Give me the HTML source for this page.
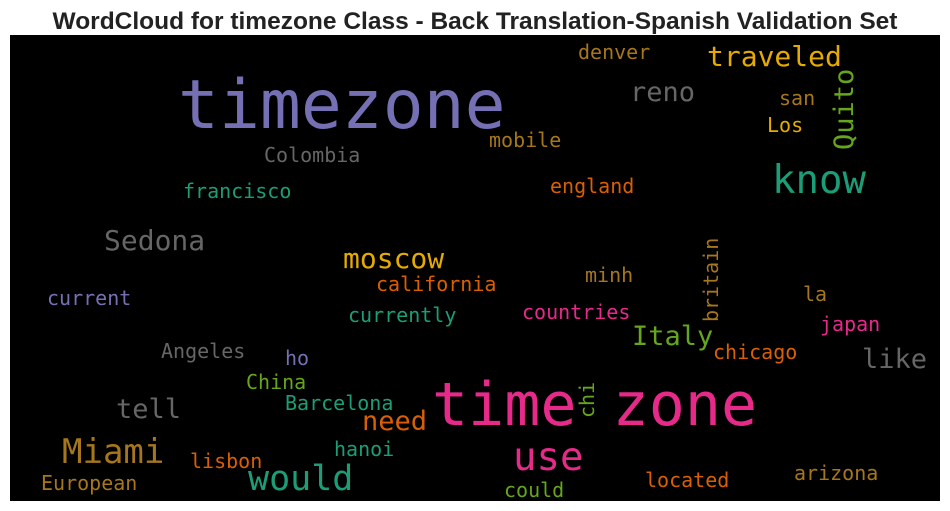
<!DOCTYPE html>
<html><head><meta charset="utf-8">
<style>
html,body{margin:0;padding:0;background:#fff;width:950px;height:511px;overflow:hidden}
svg{display:block}
</style></head>
<body>
<svg id="chart" width="950" height="511" xmlns="http://www.w3.org/2000/svg">
<text x="475" y="29" text-anchor="middle" font-family="Liberation Sans, sans-serif" font-weight="bold" font-size="24.5" fill="#222">WordCloud for timezone Class - Back Translation-Spanish Validation Set</text>
<rect x="10" y="35" width="930" height="466" fill="#000"/>
<g id="words"></g>
</svg>
<script>
const words = ["timezone","time zone","know","use","Miami","would","traveled","Quito","Sedona","moscow","Italy","like","tell","need","reno","Colombia","francisco","mobile","england","denver","san","Los","california","minh","currently","countries","current","la","japan","britain","Angeles","ho","chicago","China","Barcelona","chi","hanoi","lisbon","European","could","located","arizona"];
const sizes = [68,60,39,39,34,35,28,27,28,28,27,27,27,27,27,20,20,20,20,20,20,20,20,20,20,20,20,20,20,20,20,20,20,20,20,20,20,20,20,20,20,20];
const colors = ["#7570b3","#e7298a","#1b9e77","#e7298a","#a6761d","#1b9e77","#e6ab02","#66a61e","#666666","#e6ab02","#66a61e","#666666","#666666","#d95f02","#666666","#666666","#1b9e77","#a6761d","#d95f02","#a6761d","#a6761d","#e6ab02","#d95f02","#a6761d","#1b9e77","#e7298a","#7570b3","#a6761d","#e7298a","#a6761d","#666666","#7570b3","#d95f02","#66a61e","#1b9e77","#66a61e","#1b9e77","#d95f02","#a6761d","#66a61e","#d95f02","#a6761d"];
const xs = [178,432,772,513,62,248,707,853,104,343,632,862,116,362,630,264,183,489,550,578,779,767,376,585,348,522,47,803,820,718,161,285,713,246,285,594,334,190,41,504,645,794];
const ys = [128,425,193,470,463,490,66,150,250,268,345,368,418,430,101,162,198,147,193,59,105,132,291,282,322,319,305,301,331,322,358,365,359,389,410,418,456,468,490,497,487,480];
const vertical = [7,29,35];
const g = document.getElementById('words');
words.forEach((w,i)=>{
  const t = document.createElementNS('http://www.w3.org/2000/svg','text');
  
  
  t.setAttribute('x', xs[i]);
  t.setAttribute('y', ys[i]);
  t.setAttribute('font-family', 'DejaVu Sans Mono, Liberation Mono, monospace');
  t.setAttribute('font-size', sizes[i]);
  t.setAttribute('fill', colors[i]);
  if (vertical.includes(i)) t.setAttribute('transform', 'rotate(-90 ' + xs[i] + ' ' + ys[i] + ')');
  t.textContent = w;
  g.appendChild(t);
});
</script>
</body></html>
